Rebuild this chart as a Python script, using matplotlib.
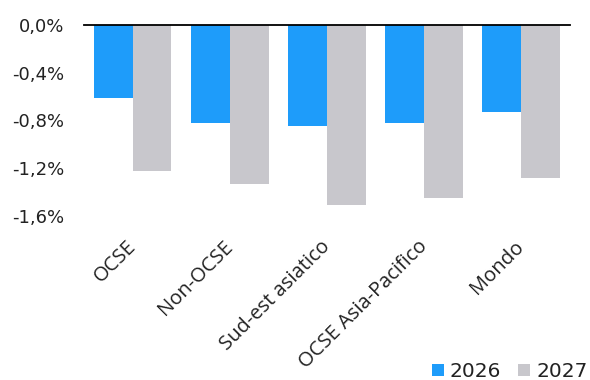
import numpy as np
import matplotlib.pyplot as plt
from matplotlib.ticker import FuncFormatter

regions = ['OCSE', 'Non-OCSE', 'Sud-est asiatico', 'OCSE Asia-Pacifico', 'Mondo']
impact_2026 = [-0.61, -0.82, -0.85, -0.82, -0.73]
impact_2027 = [-1.22, -1.33, -1.51, -1.45, -1.28]
years = ['2026', '2027']

BLUE = '#1e9cfa'
GREY = '#c8c7cc'
TEXT = '#222222'

plt.rcParams['font.family'] = ['DejaVu Sans']

fig = plt.figure(figsize=(5.9, 3.8), dpi=100)
ax = fig.add_axes([0.1424, 0.432, 0.8236, 0.502])

x = np.arange(len(regions))
w = 0.4
ax.bar(x - w / 2, impact_2026, width=w, color=BLUE, label=years[0])
ax.bar(x + w / 2, impact_2027, width=w, color=GREY, label=years[1])

ax.set_xlim(-0.5, len(regions) - 0.5)
ax.set_ylim(-1.6, 0)
ax.set_yticks(np.arange(-1.6, 0.01, 0.4))
ax.yaxis.set_major_formatter(FuncFormatter(lambda v, _: f'{v:.1f}%'.replace('.', ',').replace('-0,0', '0,0')))

for s in ['left', 'right', 'bottom']:
    ax.spines[s].set_visible(False)
ax.spines['top'].set_color('black')
ax.spines['top'].set_linewidth(1.3)

ax.tick_params(axis='y', length=0, pad=14, labelsize=13, colors=TEXT)
ax.tick_params(axis='x', length=0, pad=20, colors=TEXT)
ax.set_xticks(x)
ax.set_xticklabels(regions, rotation=45, ha='right', va='center', rotation_mode='anchor',
                   family='Open Sans', fontsize=14.5)

handles, labels = ax.get_legend_handles_labels()
fig.legend(handles, labels, loc='center right', bbox_to_anchor=(1.01, 0.022), ncol=2,
           frameon=False, fontsize=14.5, handlelength=0.6, handleheight=0.6,
           handletextpad=0.3, columnspacing=0.85, labelcolor=TEXT, borderaxespad=0)

fig.savefig('out.png', dpi=100)
